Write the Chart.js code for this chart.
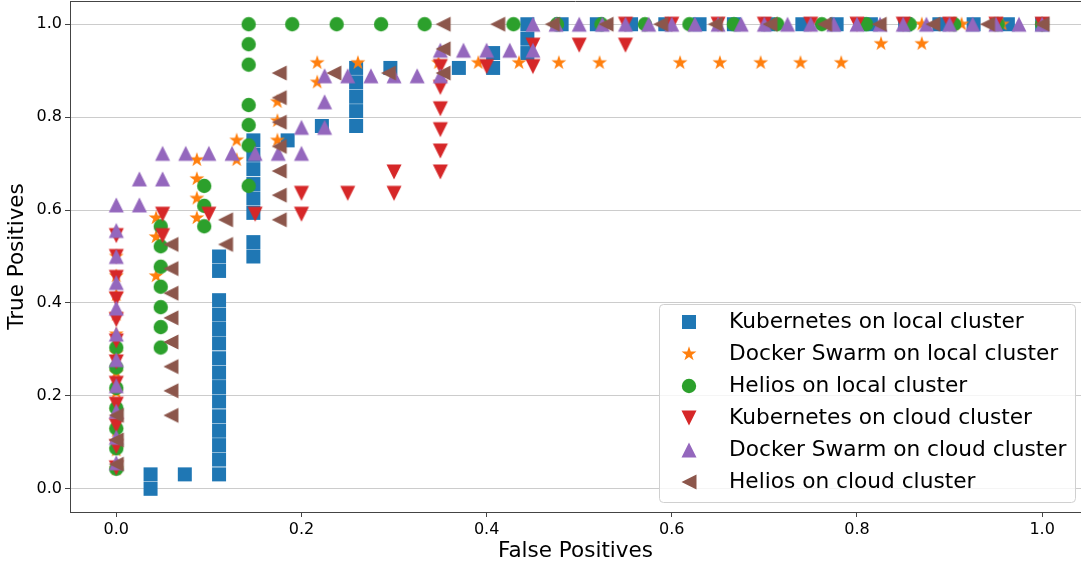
<!DOCTYPE html>
<html><head><meta charset="utf-8">
<script src="https://cdn.jsdelivr.net/npm/chart.js@4/dist/chart.umd.min.js"></script>
<style>html,body{margin:0;padding:0;background:#fff;overflow:hidden;}canvas{display:block;}</style>
</head><body>
<canvas id="c" width="1081" height="567"></canvas>
<script>
// ---------- data ----------
const seriesLabels = [
  'Kubernetes on local cluster',
  'Docker Swarm on local cluster',
  'Helios on local cluster',
  'Kubernetes on cloud cluster',
  'Docker Swarm on cloud cluster',
  'Helios on cloud cluster'
];
const seriesColors = ['#1f77b4', '#ff7f0e', '#2ca02c', '#d62728', '#9467bd', '#8c564b'];
const seriesShapes = ['square', 'star', 'circle', 'down', 'up', 'left'];

const xTickValues = [0.0, 0.2, 0.4, 0.6, 0.8, 1.0];
const yTickValues = [0.0, 0.2, 0.4, 0.6, 0.8, 1.0];

// Kubernetes on local cluster
const k8sLocalX = [
  0.037, 0.037,
  0.074,
  0.111, 0.111, 0.111, 0.111, 0.111, 0.111, 0.111, 0.111, 0.111, 0.111, 0.111, 0.111, 0.111, 0.111, 0.111,
  0.148, 0.148, 0.148, 0.148, 0.148, 0.148, 0.148, 0.148,
  0.185,
  0.222,
  0.259, 0.259, 0.259, 0.259, 0.259,
  0.296,
  0.370,
  0.407, 0.407,
  0.444, 0.444, 0.444,
  0.481, 0.519, 0.556, 0.593, 0.630, 0.667, 0.704, 0.741, 0.778, 0.815, 0.852, 0.889, 0.926, 0.963, 1.000
];
const k8sLocalY = [
  0.000, 0.031,
  0.031,
  0.031, 0.063, 0.094, 0.125, 0.156, 0.188, 0.219, 0.250, 0.281, 0.313, 0.344, 0.375, 0.406, 0.469, 0.500,
  0.500, 0.531, 0.594, 0.625, 0.656, 0.688, 0.719, 0.750,
  0.750,
  0.781,
  0.781, 0.813, 0.844, 0.875, 0.906,
  0.906,
  0.906,
  0.906, 0.938,
  0.938, 0.969, 1.000,
  1.000, 1.000, 1.000, 1.000, 1.000, 1.000, 1.000, 1.000, 1.000, 1.000, 1.000, 1.000, 1.000, 1.000, 1.000
];

// Docker Swarm on local cluster
const swarmLocalX = [
  0.000, 0.000, 0.000, 0.000, 0.000, 0.000, 0.000, 0.000, 0.000, 0.000, 0.000, 0.000,
  0.043, 0.043, 0.043,
  0.087, 0.087, 0.087, 0.087,
  0.130, 0.130,
  0.174, 0.174, 0.174,
  0.217, 0.217,
  0.261,
  0.348, 0.391, 0.435, 0.478, 0.522, 0.609, 0.652, 0.696, 0.739, 0.783,
  0.826, 0.870,
  0.870, 0.913, 0.957, 1.000
];
const swarmLocalY = [
  0.042, 0.083, 0.125, 0.167, 0.208, 0.250, 0.292, 0.333, 0.375, 0.417, 0.458, 0.500,
  0.458, 0.542, 0.583,
  0.583, 0.625, 0.667, 0.708,
  0.708, 0.750,
  0.750, 0.792, 0.833,
  0.875, 0.917,
  0.917,
  0.917, 0.917, 0.917, 0.917, 0.917, 0.917, 0.917, 0.917, 0.917, 0.917,
  0.958, 0.958,
  1.000, 1.000, 1.000, 1.000
];

// Helios on local cluster
const heliosLocalX = [
  0.000, 0.000, 0.000, 0.000, 0.000, 0.000, 0.000,
  0.048, 0.048, 0.048, 0.048, 0.048, 0.048, 0.048,
  0.095, 0.095, 0.095,
  0.143, 0.143, 0.143, 0.143, 0.143, 0.143, 0.143,
  0.190, 0.238, 0.286, 0.333, 0.429, 0.476, 0.524, 0.571, 0.619, 0.667, 0.714, 0.762, 0.810, 0.857, 0.905, 0.952, 1.000
];
const heliosLocalY = [
  0.043, 0.087, 0.130, 0.174, 0.217, 0.261, 0.304,
  0.304, 0.348, 0.391, 0.435, 0.478, 0.522, 0.565,
  0.565, 0.609, 0.652,
  0.652, 0.739, 0.783, 0.826, 0.913, 0.957, 1.000,
  1.000, 1.000, 1.000, 1.000, 1.000, 1.000, 1.000, 1.000, 1.000, 1.000, 1.000, 1.000, 1.000, 1.000, 1.000, 1.000, 1.000
];

// Kubernetes on cloud cluster
const k8sCloudX = [
  0.000, 0.000, 0.000, 0.000, 0.000, 0.000, 0.000, 0.000, 0.000, 0.000, 0.000, 0.000,
  0.050, 0.050,
  0.100,
  0.150,
  0.200, 0.200,
  0.250,
  0.300, 0.300,
  0.350, 0.350, 0.350, 0.350, 0.350, 0.350,
  0.400,
  0.450, 0.450,
  0.500,
  0.550, 0.550,
  0.600, 0.650, 0.700, 0.750, 0.800, 0.850, 0.900, 0.950, 1.000
];
const k8sCloudY = [
  0.045, 0.091, 0.136, 0.182, 0.227, 0.273, 0.318, 0.364, 0.409, 0.455, 0.500, 0.545,
  0.545, 0.591,
  0.591,
  0.591,
  0.591, 0.636,
  0.636,
  0.636, 0.682,
  0.682, 0.727, 0.773, 0.818, 0.864, 0.909,
  0.909,
  0.909, 0.955,
  0.955,
  0.955, 1.000,
  1.000, 1.000, 1.000, 1.000, 1.000, 1.000, 1.000, 1.000, 1.000
];

// Docker Swarm on cloud cluster
const swarmCloudX = [
  0.000, 0.000, 0.000, 0.000, 0.000, 0.000, 0.000, 0.000, 0.000, 0.000, 0.000,
  0.025, 0.025,
  0.050, 0.050,
  0.075, 0.100, 0.125, 0.150, 0.175,
  0.200, 0.200,
  0.225, 0.225, 0.225,
  0.250, 0.275, 0.300, 0.325,
  0.350, 0.350,
  0.375, 0.400, 0.425,
  0.450, 0.450,
  0.475, 0.500, 0.525, 0.550, 0.575, 0.600, 0.625, 0.650, 0.675, 0.700, 0.725,
  0.750, 0.775, 0.800, 0.825, 0.850, 0.875, 0.900, 0.925, 0.950, 0.975, 1.000
];
const swarmCloudY = [
  0.056, 0.111, 0.167, 0.222, 0.278, 0.333, 0.389, 0.444, 0.500, 0.556, 0.611,
  0.611, 0.667,
  0.667, 0.722,
  0.722, 0.722, 0.722, 0.722, 0.722,
  0.722, 0.778,
  0.778, 0.833, 0.889,
  0.889, 0.889, 0.889, 0.889,
  0.889, 0.944,
  0.944, 0.944, 0.944,
  0.944, 1.000,
  1.000, 1.000, 1.000, 1.000, 1.000, 1.000, 1.000, 1.000, 1.000, 1.000, 1.000,
  1.000, 1.000, 1.000, 1.000, 1.000, 1.000, 1.000, 1.000, 1.000, 1.000, 1.000
];

// Helios on cloud cluster
const heliosCloudX = [
  0.000, 0.000, 0.000,
  0.059, 0.059, 0.059, 0.059, 0.059, 0.059, 0.059, 0.059,
  0.118, 0.118,
  0.176, 0.176, 0.176, 0.176, 0.176, 0.176, 0.176,
  0.235,
  0.294,
  0.353, 0.353, 0.353,
  0.412, 0.471, 0.529, 0.588, 0.647, 0.706, 0.765, 0.824, 0.882, 0.941, 1.000
];
const heliosCloudY = [
  0.053, 0.105, 0.158,
  0.158, 0.211, 0.263, 0.316, 0.368, 0.421, 0.474, 0.526,
  0.526, 0.579,
  0.579, 0.632, 0.684, 0.737, 0.789, 0.842, 0.895,
  0.895,
  0.895,
  0.895, 0.947, 1.000,
  1.000, 1.000, 1.000, 1.000, 1.000, 1.000, 1.000, 1.000, 1.000, 1.000, 1.000
];

const seriesX = [k8sLocalX, swarmLocalX, heliosLocalX, k8sCloudX, swarmCloudX, heliosCloudX];
const seriesY = [k8sLocalY, swarmLocalY, heliosLocalY, k8sCloudY, swarmCloudY, heliosCloudY];

// ---------- marker glyphs ----------
function makeMarker(shape, color) {
  const s = 20, c = document.createElement('canvas');
  c.width = s; c.height = s;
  const g = c.getContext('2d');
  g.fillStyle = color;
  g.translate(s / 2, s / 2);
  g.beginPath();
  if (shape === 'square') {
    g.rect(-7, -7, 14, 14);
  } else if (shape === 'circle') {
    g.arc(0, 0, 7.2, 0, Math.PI * 2);
  } else if (shape === 'star') {
    for (let i = 0; i < 10; i++) {
      const r = i % 2 ? 3.0 : 7.8;
      const a = -Math.PI / 2 + i * Math.PI / 5;
      if (i === 0) g.moveTo(r * Math.cos(a), r * Math.sin(a));
      else g.lineTo(r * Math.cos(a), r * Math.sin(a));
    }
    g.closePath();
  } else if (shape === 'up') {
    g.moveTo(0, -7.5); g.lineTo(7.5, 7.5); g.lineTo(-7.5, 7.5); g.closePath();
  } else if (shape === 'down') {
    g.moveTo(0, 7.5); g.lineTo(7.5, -7.5); g.lineTo(-7.5, -7.5); g.closePath();
  } else if (shape === 'left') {
    g.moveTo(-7.5, 0); g.lineTo(7.5, -7.5); g.lineTo(7.5, 7.5); g.closePath();
  }
  g.fill();
  return c;
}

const datasets = seriesLabels.map((label, i) => ({
  label,
  data: seriesX[i].map((x, j) => ({ x, y: seriesY[i][j] })),
  pointStyle: makeMarker(seriesShapes[i], seriesColors[i]),
  backgroundColor: seriesColors[i],
  borderColor: seriesColors[i],
  pointRadius: 7,
  showLine: false,
  order: seriesLabels.length - 1 - i
}));

// ---------- frame + legend ----------
const frameAndLegend = {
  id: 'frameAndLegend',
  afterDraw(chart) {
    const { ctx, chartArea: a } = chart;
    ctx.save();
    ctx.strokeStyle = '#444';
    ctx.lineWidth = 1;
    ctx.beginPath();
    ctx.moveTo(a.left, a.top + 0.5);
    ctx.lineTo(a.right, a.top + 0.5);
    ctx.stroke();

    const W = 416, H = 198;
    const L = a.right - 6 - W, T = a.bottom - 10 - H;
    ctx.fillStyle = 'rgba(255,255,255,0.8)';
    ctx.strokeStyle = '#d0d0d0';
    ctx.beginPath();
    ctx.roundRect(L + 0.5, T + 0.5, W, H, 4);
    ctx.fill();
    ctx.stroke();
    ctx.font = '21.7px "DejaVu Sans"';
    ctx.textBaseline = 'middle';
    ctx.textAlign = 'left';
    chart.data.datasets.forEach((ds, i) => {
      const y = T + 17.7 + i * 32;
      ctx.drawImage(ds.pointStyle, L + 30 - 10, Math.round(y) - 10);
      ctx.fillStyle = '#000';
      ctx.fillText(ds.label, L + 70, y + 1);
    });
    ctx.restore();
  }
};

const tickFont = { family: 'DejaVu Sans', size: 16 };
const titleFont = { family: 'DejaVu Sans', size: 21.5 };

new Chart(document.getElementById('c'), {
  type: 'scatter',
  data: { datasets },
  plugins: [frameAndLegend],
  options: {
    responsive: false,
    animation: false,
    layout: { autoPadding: false, padding: { top: 1, right: 0, left: 0, bottom: 0 } },
    plugins: { legend: { display: false }, tooltip: { enabled: false } },
    scales: {
      x: {
        type: 'linear',
        min: -0.05,
        max: 1.042,
        afterBuildTicks: s => { s.ticks = xTickValues.map(v => ({ value: v })); },
        afterFit: s => { s.height = 55; s.paddingLeft = 0; s.paddingRight = 0; },
        ticks: { font: tickFont, color: '#000', padding: 3, maxRotation: 0, callback: v => Number(v).toFixed(1) },
        grid: { drawOnChartArea: false, tickLength: 5, color: '#444', tickColor: '#444' },
        border: { display: true, color: '#444', width: 1 },
        title: { display: true, text: 'False Positives', font: titleFont, color: '#000', padding: { top: 0, bottom: 3 } }
      },
      y: {
        type: 'linear',
        min: -0.05,
        max: 1.05,
        afterBuildTicks: s => { s.ticks = yTickValues.map(v => ({ value: v })); },
        afterFit: s => { s.width = 70; s.paddingTop = 0; s.paddingBottom = 0; },
        ticks: { font: tickFont, color: '#000', padding: 3, callback: v => Number(v).toFixed(1) },
        grid: { drawOnChartArea: true, tickLength: 5, color: '#cccccc', tickColor: '#444', lineWidth: 1 },
        border: { display: true, color: '#444', width: 1 },
        title: { display: true, text: 'True Positives', font: titleFont, color: '#000', padding: { top: 5, bottom: 0 } }
      }
    }
  }
});
</script>
</body></html>
